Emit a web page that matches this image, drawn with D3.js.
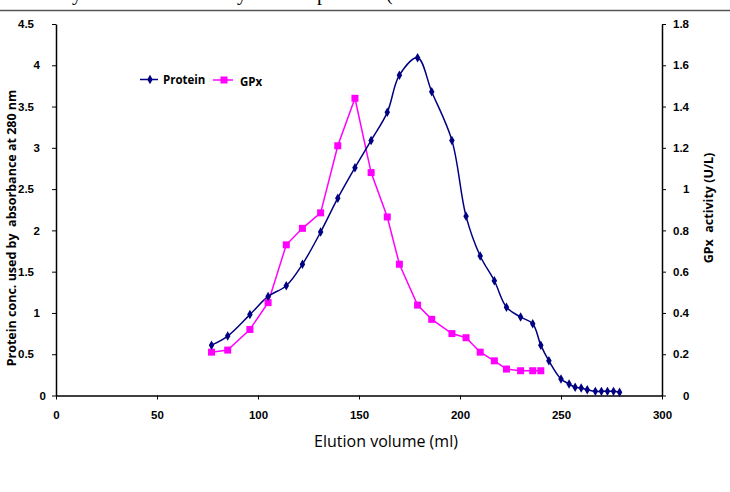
<!DOCTYPE html>
<html>
<head>
<meta charset="utf-8">
<script src="https://cdn.jsdelivr.net/npm/d3@7"></script>
<style>
  body { margin: 0; background: #fff; }
  svg { display: block; }
  .tick text { font-family: "Liberation Sans", Arial, sans-serif; font-weight: bold; font-size: 11.5px; fill: #000; }
  .axis path, .axis line { stroke: #000; }
</style>
</head>
<body>
<svg id="chart" width="730" height="492"></svg>
<script>
  // elution volume (ml) for each fraction
  var protVolume = [77, 85, 96, 105, 114, 122, 131, 139.5, 148, 156, 164, 170, 179, 186, 196, 203,
    210, 217, 223, 230, 236, 240, 244, 250, 254, 257, 260, 263, 267, 270, 273, 276, 279];
  // protein conc (absorbance at 280 nm)
  var protein = [0.61, 0.72, 0.98, 1.20, 1.33, 1.59, 1.98, 2.39, 2.76, 3.09, 3.43, 3.88, 4.09, 3.68, 3.09, 2.17,
    1.69, 1.39, 1.07, 0.95, 0.87, 0.61, 0.42, 0.20, 0.14, 0.10, 0.09, 0.07, 0.05, 0.05, 0.05, 0.05, 0.04];

  var gpxVolume = [77, 85, 96, 105, 114, 122, 131, 139.5, 148, 156, 164, 170, 179, 186, 196, 203,
    210, 217, 223, 230, 236, 240];
  // GPx activity (U/L)
  var gpx = [0.21, 0.22, 0.32, 0.45, 0.73, 0.81, 0.885, 1.21, 1.44, 1.08, 0.865, 0.636, 0.438, 0.369, 0.30, 0.28,
    0.21, 0.168, 0.128, 0.12, 0.12, 0.12];

  var xTicks = [0, 50, 100, 150, 200, 250, 300];
  var leftTicks = [0, 0.5, 1, 1.5, 2, 2.5, 3, 3.5, 4, 4.5];
  var rightTicks = [0, 0.2, 0.4, 0.6, 0.8, 1, 1.2, 1.4, 1.6, 1.8];

  function draw() {
    var svg = d3.select('#chart');
    var pL = 56, pR = 662, pT = 24, pB = 395.5;

    var x = d3.scaleLinear().domain([0, 300]).range([pL, pR]);
    var yL = d3.scaleLinear().domain([0, 4.5]).range([pB, pT]);
    var yR = d3.scaleLinear().domain([0, 1.8]).range([pB, pT]);

    // cut-off caption line above the chart
    var cap = svg.append('g').attr('font-family', '"Liberation Serif", serif').attr('font-size', 20);
    [['y', 72], ['y', 237], ['p', 317], ['(', 386]].forEach((c) => {
      cap.append('text').attr('x', c[1]).attr('y', 0).text(c[0]);
    });
    svg.append('line').attr('x1', 0).attr('x2', 730).attr('y1', 10.5).attr('y2', 10.5)
      .attr('stroke', '#555').attr('stroke-width', 1.5);

    // axes
    svg.append('g').attr('class', 'axis').attr('transform', 'translate(0,' + pB + ')')
      .call(d3.axisBottom(x).tickValues(xTicks).tickSize(4).tickSizeOuter(0).tickPadding(11));
    var gl = svg.append('g').attr('class', 'axis').attr('transform', 'translate(' + pL + ',0)')
      .call(d3.axisLeft(yL).tickValues(leftTicks).tickSize(4).tickSizeOuter(0).tickFormat(d3.format('')));
    var gr = svg.append('g').attr('class', 'axis').attr('transform', 'translate(' + pR + ',0)')
      .call(d3.axisRight(yR).tickValues(rightTicks).tickSize(4).tickSizeOuter(0).tickFormat(d3.format('')));
    svg.selectAll('.axis path').attr('stroke-width', 1.5);
    svg.selectAll('.axis line').attr('stroke', '#777');
    gl.selectAll('.tick text').attr('x', (d) => d === 0 ? -10 : Number.isInteger(d) ? -16 : -22);
    gr.selectAll('.tick text').attr('x', (d) => Number.isInteger(d) ? 21 : 11);

    // axis titles
    svg.append('text').attr('transform', 'translate(16,228) rotate(-90)')
      .attr('text-anchor', 'middle').attr('font-family', '"Open Sans", sans-serif')
      .attr('font-weight', 'bold').attr('font-size', 12.5)
      .text('Protein conc. used by\u00a0 absorbance at 280 nm');
    svg.append('text').attr('transform', 'translate(713,208) rotate(-90)')
      .attr('text-anchor', 'middle').attr('font-family', '"Open Sans", sans-serif')
      .attr('font-weight', 'bold').attr('font-size', 12.5)
      .text('GPx\u00a0 activity (U/L)');
    svg.append('text').attr('x', 386).attr('y', 447)
      .attr('text-anchor', 'middle').attr('font-family', '"Open Sans", sans-serif')
      .attr('font-size', 16).text('Elution volume (ml)');

    // series
    var navy = '#000080', pink = '#ff00ff';
    var protData = protVolume.map((v, i) => [v, protein[i]]);
    var gpxData = gpxVolume.map((v, i) => [v, gpx[i]]);

    svg.append('path').datum(gpxData)
      .attr('fill', 'none').attr('stroke', pink).attr('stroke-width', 1.5)
      .attr('d', d3.line().x((d) => x(d[0])).y((d) => yR(d[1])));
    svg.append('path').datum(protData)
      .attr('fill', 'none').attr('stroke', navy).attr('stroke-width', 1.5)
      .attr('d', d3.line().x((d) => x(d[0])).y((d) => yL(d[1])).curve(d3.curveCatmullRom.alpha(0.5)));

    svg.append('g').selectAll('rect').data(gpxData).enter().append('rect')
      .attr('x', (d) => x(d[0]) - 3.5).attr('y', (d) => yR(d[1]) - 3.5)
      .attr('width', 7).attr('height', 7).attr('fill', pink);
    svg.append('g').selectAll('path').data(protData).enter().append('path')
      .attr('d', d3.symbol(d3.symbolDiamond, 26))
      .attr('transform', (d) => 'translate(' + x(d[0]) + ',' + yL(d[1]) + ')')
      .attr('fill', navy);

    // legend
    var lg = svg.append('g').attr('font-family', '"Open Sans", sans-serif')
      .attr('font-weight', 'bold').attr('font-size', 11.5);
    lg.append('line').attr('x1', 140).attr('x2', 158).attr('y1', 79.5).attr('y2', 79.5)
      .attr('stroke', navy).attr('stroke-width', 1.5);
    lg.append('path').attr('d', d3.symbol(d3.symbolDiamond, 26)).attr('transform', 'translate(150,79.5)').attr('fill', navy);
    lg.append('text').attr('x', 163).attr('y', 83.5).text('Protein');
    lg.append('line').attr('x1', 213).attr('x2', 233).attr('y1', 80).attr('y2', 80)
      .attr('stroke', pink).attr('stroke-width', 1.5);
    lg.append('rect').attr('x', 220.5).attr('y', 76.5).attr('width', 7).attr('height', 7).attr('fill', pink);
    lg.append('text').attr('x', 240).attr('y', 86).text('GPx');
  }
  draw();
</script>
</body>
</html>
